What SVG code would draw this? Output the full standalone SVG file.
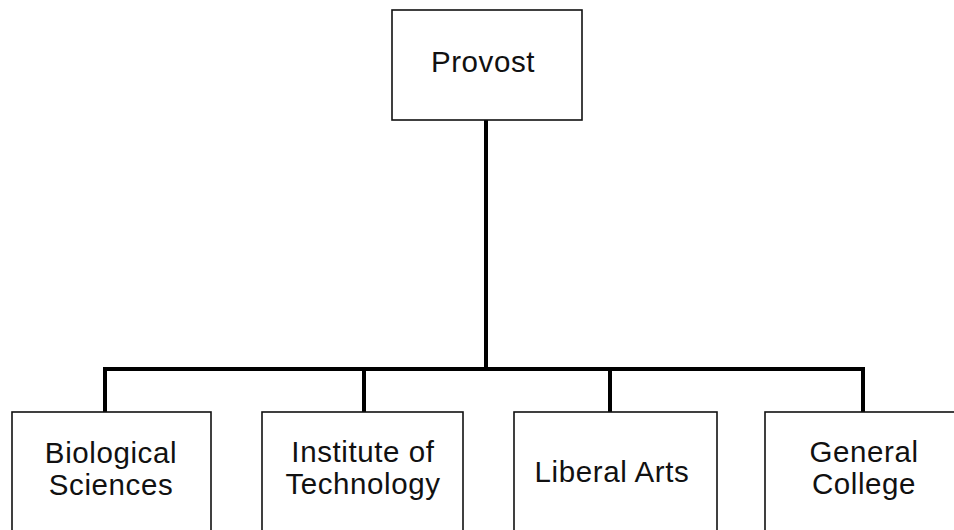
<svg xmlns="http://www.w3.org/2000/svg" width="954" height="530" viewBox="0 0 954 530">
<style>
.box{fill:#fff;stroke:#111;stroke-width:1.6}
.lbl{font-family:"Liberation Sans",Arial,sans-serif;font-size:29.5px;letter-spacing:0.6px;fill:#111;text-anchor:middle}
.conn{fill:none;stroke:#000;stroke-width:4}
</style>
<rect width="954" height="530" fill="#fff"/>
<g id="connectors">
<path class="conn" d="M486,120 V369"/>
<path class="conn" d="M105,412 V369 H863 V412"/>
<path class="conn" d="M364,369 V412"/>
<path class="conn" d="M610,369 V412"/>
</g>
<g id="provost">
<rect class="box" x="392" y="10" width="190" height="110"/>
<text class="lbl" x="483" y="72">Provost</text>
</g>
<g id="biological-sciences">
<rect class="box" x="12" y="412" width="199" height="125"/>
<text class="lbl" x="111" y="463">Biological</text>
<text class="lbl" x="111" y="495">Sciences</text>
</g>
<g id="institute-of-technology">
<rect class="box" x="262" y="412" width="201" height="125"/>
<text class="lbl" x="363" y="462">Institute of</text>
<text class="lbl" x="363" y="494">Technology</text>
</g>
<g id="liberal-arts">
<rect class="box" x="514" y="412" width="203" height="125"/>
<text class="lbl" x="612" y="482">Liberal Arts</text>
</g>
<g id="general-college">
<rect class="box" x="765" y="412" width="200" height="125"/>
<text class="lbl" x="864" y="462">General</text>
<text class="lbl" x="864" y="494">College</text>
</g>
</svg>
